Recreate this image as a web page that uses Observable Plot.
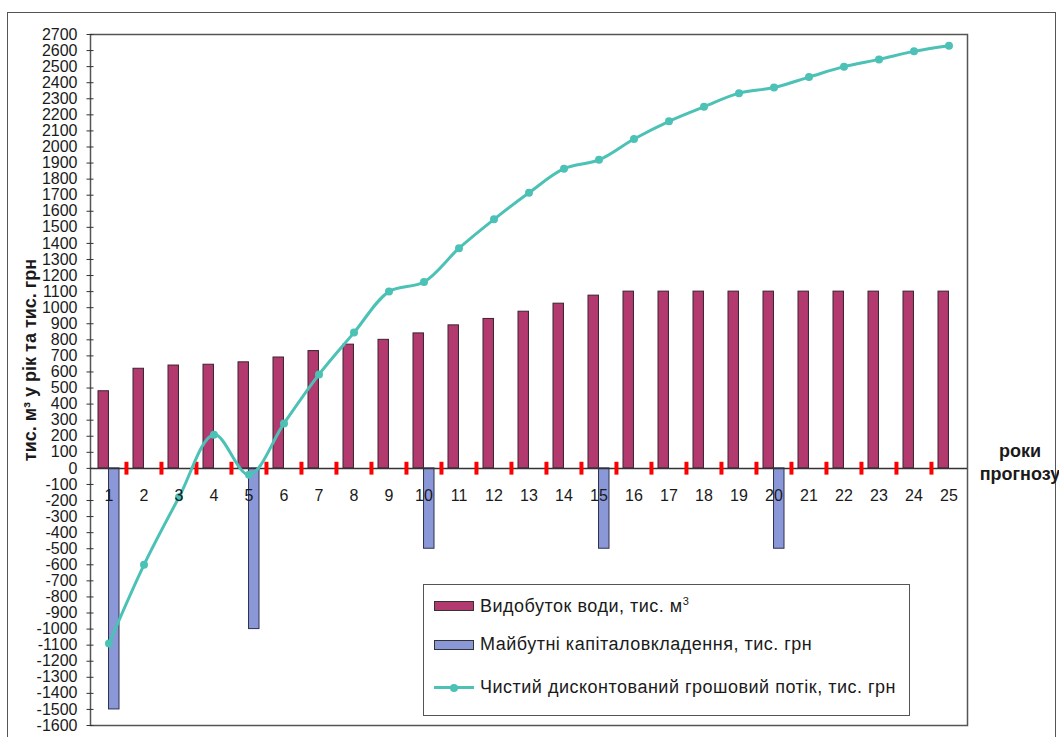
<!DOCTYPE html>
<html>
<head>
<meta charset="utf-8">
<script src="https://cdn.jsdelivr.net/npm/d3@7"></script>
<script src="https://cdn.jsdelivr.net/npm/@observablehq/plot@0.6"></script>
<style>
  html, body { margin: 0; padding: 0; background: #fff; }
  #wrap { position: relative; width: 1059px; height: 737px; overflow: hidden; font-family: "Liberation Sans", Arial, sans-serif; color: #1a1a1a; }
  #outer { position: absolute; left: 7px; top: 12px; width: 1049px; height: 740px; border: 1.5px solid #555; box-sizing: border-box; }
  #chart { position: absolute; left: 0; top: 0; }
  #ytitle { position: absolute; left: 30px; top: 360px; transform: translate(-50%, -50%) rotate(-90deg); white-space: nowrap; font-weight: bold; font-size: 18px; }
  #xtitle { position: absolute; left: 1020px; top: 440px; transform: translateX(-50%); text-align: center; font-weight: bold; font-size: 18px; line-height: 23px; white-space: nowrap; }
  #legend { position: absolute; left: 423px; top: 584px; width: 487px; height: 132px; border: 1.5px solid #555; box-sizing: border-box; background: #fff; font-size: 18px; letter-spacing: 0.5px; }
  .item { position: absolute; left: 10px; display: flex; align-items: center; white-space: nowrap; }
  .sw { width: 38px; height: 8px; margin-right: 6px; border: 1px solid #333; }
  .ln { position: relative; width: 40px; height: 3px; margin-right: 6px; background: #4cc1b6; }
  .ln::after { content: ""; position: absolute; left: 16px; top: -2.5px; width: 8px; height: 8px; border-radius: 50%; background: #4cc1b6; }
</style>
</head>
<body>
<div id="wrap">
  <div id="outer"></div>
  <div id="chart"></div>
  <div id="ytitle">тис. м³ у рік та тис. грн</div>
  <div id="xtitle">роки<br>прогнозу</div>
  <div id="legend">
    <div class="item" style="top: 10px;"><span class="sw" style="background:#b23a6f"></span><span>Видобуток води, тис. м<sup style="font-size:11px">3</sup></span></div>
    <div class="item" style="top: 49px;"><span class="sw" style="background:#8b98d8"></span><span>Майбутні капіталовкладення, тис. грн</span></div>
    <div class="item" style="top: 92px;"><span class="ln"></span><span>Чистий дисконтований грошовий потік, тис. грн</span></div>
  </div>
</div>
<script>
// Forecast years
const years = [1, 2, 3, 4, 5, 6, 7, 8, 9, 10, 11, 12, 13, 14, 15, 16, 17, 18, 19, 20, 21, 22, 23, 24, 25];
// Water production, thousand m³ per year
const waterOutput = [480, 620, 640, 645, 660, 690, 730, 770, 800, 840, 890, 930, 975, 1025, 1075, 1100, 1100, 1100, 1100, 1100, 1100, 1100, 1100, 1100, 1100];
// Future capital investment, thousand UAH (null where none)
const investment = [-1500, null, null, null, -1000, null, null, null, null, -500, null, null, null, null, -500, null, null, null, null, -500, null, null, null, null, null];
// Cumulative net discounted cash flow, thousand UAH
const netCashFlow = [-1090, -600, -180, 210, -40, 280, 585, 845, 1100, 1160, 1370, 1550, 1715, 1865, 1920, 2050, 2160, 2250, 2335, 2370, 2435, 2500, 2545, 2595, 2630];
// Y axis tick values
const yTicks = [-1600, -1500, -1400, -1300, -1200, -1100, -1000, -900, -800, -700, -600, -500, -400, -300, -200, -100, 0,
  100, 200, 300, 400, 500, 600, 700, 800, 900, 1000, 1100, 1200, 1300, 1400, 1500, 1600, 1700, 1800, 1900, 2000,
  2100, 2200, 2300, 2400, 2500, 2600, 2700];

const waterRows = years.map((year, i) => ({year, value: waterOutput[i]}));
const investRows = years.map((year, i) => ({year, value: investment[i]})).filter(d => d.value != null);
const flowRows = years.map((year, i) => ({year, value: netCashFlow[i]}));
// Divider ticks on the zero line between neighbouring years
const dividerRows = years.slice(1).map(year => ({year, lo: -42, hi: 38}));

const W = 1059, H = 737, mL = 90, mR = 92, mT = 34, mB = 12;
const step = (W - mL - mR) / years.length;
const half = step * 0.6 / 2;

const red = "#b23a6f", blue = "#8b98d8", teal = "#4cc1b6", ink = "#333";

const chart = Plot.plot({
  width: W,
  height: H,
  marginLeft: mL,
  marginRight: mR,
  marginTop: mT,
  marginBottom: mB,
  x: {type: "band", domain: years, paddingInner: 0.4, paddingOuter: 0.2, axis: null},
  y: {domain: [-1600, 2700], axis: null},
  style: {fontFamily: "'Liberation Sans', Arial, sans-serif", fontSize: "16px", color: "#1a1a1a", background: "transparent"},
  marks: [
    Plot.frame({stroke: "#555", strokeWidth: 1.5}),
    Plot.axisY({ticks: yTicks, tickSize: 0, tickPadding: 13, tickFormat: d => String(d), fontSize: 16, fill: "#1a1a1a", label: null}),
    Plot.axisY({ticks: yTicks, tickSize: 7, dx: 3.5, text: null, stroke: ink, label: null}),
    Plot.barY(waterRows, {x: "year", y: "value", fill: red, stroke: "#3a2430", strokeWidth: 1, insetRight: half}),
    Plot.barY(investRows, {x: "year", y: "value", fill: blue, stroke: "#2e3050", strokeWidth: 1, insetLeft: half}),
    Plot.ruleY([0], {stroke: ink, strokeWidth: 1.5}),
    Plot.ruleX(dividerRows, {x: "year", y1: "lo", y2: "hi", dx: -step / 2, stroke: "#ff0000", strokeWidth: 4}),
    Plot.line(flowRows, {x: "year", y: "value", stroke: teal, strokeWidth: 3, curve: "catmull-rom"}),
    Plot.dot(flowRows, {x: "year", y: "value", r: 4, fill: teal}),
    Plot.text(years, {x: d => d, y: 0, dy: 27, text: d => String(d), fontSize: 16, fill: "#1a1a1a"})
  ]
});

document.getElementById("chart").appendChild(chart);
</script>
</body>
</html>
